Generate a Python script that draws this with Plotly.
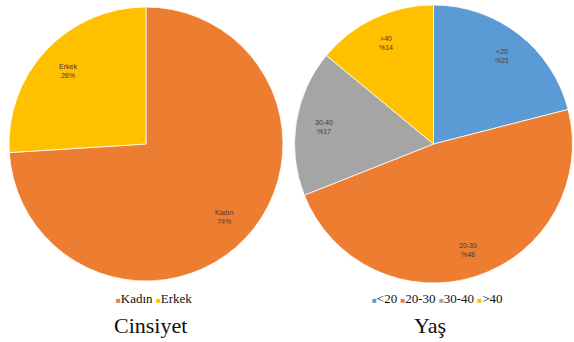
import math
import plotly.graph_objects as go

# Gender split
gender_labels = ["Kadın", "Erkek"]
gender_values = [74, 26]
gender_colors = ["#ED7D31", "#FFC000"]

# Age groups
age_labels = ["<20", "20-30", "30-40", ">40"]
age_values = [21, 48, 17, 14]
age_colors = ["#5B9BD5", "#ED7D31", "#A5A5A5", "#FFC000"]

W, H = 574, 342

# pie placement in pixels: centre x, centre y, radius
LEFT_PIE = (146.0, 144.0, 137.0)
RIGHT_PIE = (433.5, 144.0, 139.0)


def domain_of(cx, cy, r):
    return dict(x=[(cx - r) / W, (cx + r) / W],
                y=[1 - (cy + r) / H, 1 - (cy - r) / H])


def slice_labels(labels, values, geom, fmt, frac=0.78):
    """Place a label at the mid angle of each clockwise slice (start at 12 o'clock)."""
    cx, cy, r = geom
    total = float(sum(values))
    acc = 0.0
    out = []
    for lab, v in zip(labels, values):
        mid = (acc + v / 2.0) / total * 2 * math.pi
        acc += v
        px = cx + frac * r * math.sin(mid)
        py = cy - frac * r * math.cos(mid)
        out.append(dict(text=fmt(lab, v), x=px / W, y=1 - py / H,
                        xref="paper", yref="paper", showarrow=False,
                        xanchor="center", yanchor="middle", align="center",
                        font=dict(family="Liberation Sans", size=7, color="#4a3a2a")))
    return out


def legend_line(labels, colors, x, y):
    parts = [f"<span style='color:{c};font-size:8px'>■</span>{lab}"
             for lab, c in zip(labels, colors)]
    return dict(text=" ".join(parts), x=x, y=y, xref="paper", yref="paper",
                showarrow=False, xanchor="center", yanchor="middle",
                font=dict(family="Liberation Serif", size=13, color="#111111"))


fig = go.Figure()

fig.add_trace(go.Pie(
    labels=gender_labels, values=gender_values,
    marker=dict(colors=gender_colors, line=dict(color="white", width=0.8)),
    sort=False, direction="clockwise", rotation=0,
    domain=domain_of(*LEFT_PIE), textinfo="none",
    hoverinfo="label+value", showlegend=False,
))

fig.add_trace(go.Pie(
    labels=age_labels, values=age_values,
    marker=dict(colors=age_colors, line=dict(color="white", width=0.8)),
    sort=False, direction="clockwise", rotation=0,
    domain=domain_of(*RIGHT_PIE), textinfo="none",
    hoverinfo="label+value", showlegend=False,
))

annotations = []
annotations += slice_labels(gender_labels, gender_values, LEFT_PIE,
                            lambda lab, v: f"{lab}<br>{v}%", frac=0.78)
annotations += slice_labels(age_labels, age_values, RIGHT_PIE,
                            lambda lab, v: f"{lab}<br>%{v}", frac=0.80)
annotations.append(legend_line(gender_labels, gender_colors, 154 / W, 1 - 298 / H))
annotations.append(legend_line(age_labels, age_colors, 437 / W, 1 - 298 / H))
annotations += [
    dict(text="Cinsiyet", x=150 / W, y=1 - 325 / H, xref="paper", yref="paper",
         showarrow=False, xanchor="center", yanchor="middle",
         font=dict(family="Liberation Serif", size=22, color="#111111")),
    dict(text="Yaş", x=430 / W, y=1 - 325 / H, xref="paper", yref="paper",
         showarrow=False, xanchor="center", yanchor="middle",
         font=dict(family="Liberation Serif", size=22, color="#111111")),
]

fig.update_layout(
    width=W, height=H,
    margin=dict(l=0, r=0, t=0, b=0),
    paper_bgcolor="white", plot_bgcolor="white",
    showlegend=False,
    annotations=annotations,
)

fig.write_html("out.html")
